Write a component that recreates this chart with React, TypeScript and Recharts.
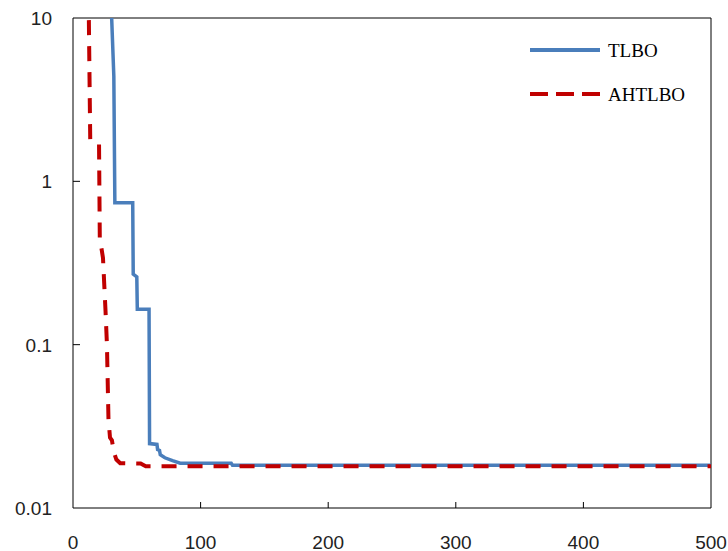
import React from "react"
import { LineChart, Line, XAxis, YAxis, ReferenceArea } from "recharts"

// Convergence curves (best objective value vs. iteration), log scale y
const tlboIter = [30.2, 32, 32.8, 46.8, 47.2, 50, 50.4, 59.6, 60, 65.8, 66.3, 67.8, 68.4, 72, 78, 84, 124, 125, 500]
const tlboValue = [10.5, 4.4, 0.74, 0.74, 0.27, 0.26, 0.165, 0.165, 0.0248, 0.0245, 0.0228, 0.0225, 0.0212, 0.0203, 0.0195, 0.0188, 0.0188, 0.0183, 0.0183]

const ahtlboIter = [12.2, 13.5, 20.4, 21, 23.5, 25.5, 26.6, 27.8, 29, 30.5, 32, 34, 37, 53, 57, 500]
const ahtlboValue = [14, 1.8, 1.7, 0.45, 0.34, 0.16, 0.1, 0.035, 0.027, 0.026, 0.022, 0.0198, 0.0188, 0.0187, 0.018, 0.018]

const xTicks = [0, 100, 200, 300, 400, 500]
const yTicks = [0.01, 0.1, 1, 10]
const yTickLabels = ["0.01", "0.1", "1", "10"]

const tlboData = tlboIter.map((x, i) => ({ x, v: tlboValue[i] }))
const ahtlboData = ahtlboIter.map((x, i) => ({ x, v: ahtlboValue[i] }))

const BLUE = "#4a7ebb"
const RED = "#c00000"
const LABEL_FONT = "'Liberation Sans', Arial, sans-serif"
const SERIF = "'Liberation Serif', 'Times New Roman', serif"

const YTick = (props: any) => {
  const { x, y, payload } = props
  const i = yTicks.indexOf(payload.value)
  return (
    <g>
      {i > 0 && i < yTicks.length - 1 && (
        <line x1={x + 21} x2={x + 28} y1={y} y2={y} stroke="#000" strokeWidth={1} />
      )}
      <text x={x} y={y} dy="0.36em" textAnchor="end" fontSize={19} fontFamily={LABEL_FONT} fill="#222">
        {yTickLabels[i]}
      </text>
    </g>
  )
}

const XTick = (props: any) => {
  const { x, y, payload } = props
  const inner = payload.value > 0 && payload.value < 500
  return (
    <g>
      {inner && <line x1={x} x2={x} y1={y - 28} y2={y - 34} stroke="#000" strokeWidth={1} />}
      <text x={x} y={y} dy="0.71em" textAnchor="middle" fontSize={19} fontFamily={LABEL_FONT} fill="#222">
        {payload.value}
      </text>
    </g>
  )
}

export default function App() {
  return (
    <div style={{ position: "absolute", left: 0, top: 0, width: 728, height: 551, background: "#fff" }}>
      <LineChart width={728} height={551} margin={{ top: 18, right: 17, bottom: 0, left: 0 }}>
        <XAxis
          type="number"
          dataKey="x"
          domain={[0, 500]}
          ticks={xTicks}
          allowDataOverflow
          height={43}
          tickSize={0}
          tickMargin={28}
          tick={<XTick />}
          axisLine={false}
          tickLine={false}
        />
        <YAxis
          scale="log"
          domain={[0.01, 10]}
          ticks={yTicks}
          allowDataOverflow
          width={73}
          tickSize={0}
          tickMargin={21}
          tick={<YTick />}
          axisLine={false}
          tickLine={false}
        />
        <ReferenceArea x1={0} x2={500} y1={0.01} y2={10} fill="none" stroke="#000" strokeWidth={1} ifOverflow="visible" />
        <Line
          data={tlboData}
          dataKey="v"
          name="TLBO"
          type="linear"
          stroke={BLUE}
          strokeWidth={3.5}
          dot={false}
          isAnimationActive={false}
        />
        <Line
          data={ahtlboData}
          dataKey="v"
          name="AHTLBO"
          type="linear"
          stroke={RED}
          strokeWidth={4}
          strokeDasharray="15 11"
          dot={false}
          isAnimationActive={false}
        />
      </LineChart>
      {/* legend overlay */}
      <svg width={200} height={80} style={{ position: "absolute", left: 525, top: 28 }}>
        <line x1={5} x2={75} y1={22} y2={22} stroke={BLUE} strokeWidth={4} />
        <text x={83} y={22} dy="0.35em" fontSize={19} fontFamily={SERIF} fill="#000">
          TLBO
        </text>
        <line x1={5} x2={75} y1={66} y2={66} stroke={RED} strokeWidth={4} strokeDasharray="18 8" />
        <text x={83} y={66} dy="0.35em" fontSize={19} fontFamily={SERIF} fill="#000">
          AHTLBO
        </text>
      </svg>
    </div>
  )
}
